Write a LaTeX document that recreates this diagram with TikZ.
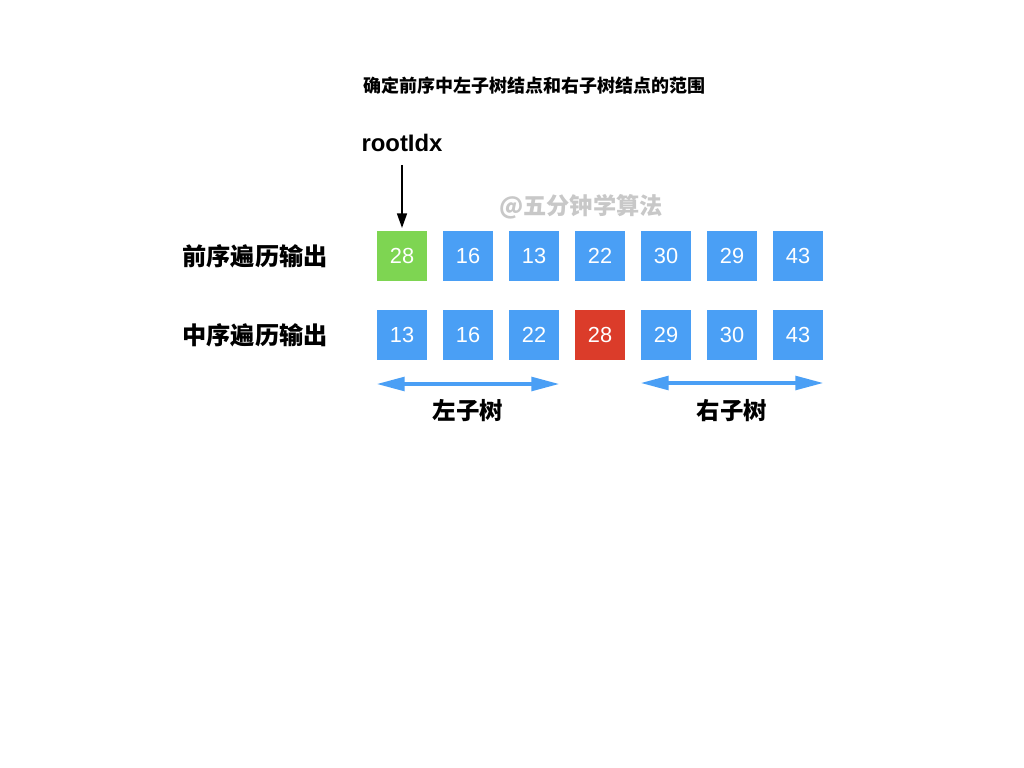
\documentclass[tikz,border=0pt]{standalone}
\usepackage{fontspec}
\setmainfont{Liberation Sans}
\newfontfamily\cjk{Noto Sans CJK SC}
\usetikzlibrary{arrows.meta, positioning}
\definecolor{cellblue}{RGB}{74,159,245}
\definecolor{cellgreen}{RGB}{126,213,82}
\definecolor{cellred}{RGB}{219,60,42}
\definecolor{markgray}{RGB}{200,200,200}
\tikzset{
  cell/.style   = {rectangle, fill=cellblue, minimum size=1.25cm, inner sep=0pt,
                   text=white, font=\fontsize{15.5}{15.5}\selectfont},
  rowlab/.style = {font=\cjk\bfseries\fontsize{17.2}{17.2}\selectfont},
  sublab/.style = {font=\cjk\bfseries\fontsize{16.7}{16.7}\selectfont},
  span/.style   = {{Triangle[length=0.7cm, width=0.34cm]}-{Triangle[length=0.7cm, width=0.34cm]},
                   line width=2.6pt, color=cellblue, shorten <=-1pt, shorten >=-1pt},
}

\begin{document}
\begin{tikzpicture}[x=0.025cm, y=-0.025cm]
  \useasboundingbox (0,0) rectangle (1024,768);
  \fill[white] (0,0) rectangle (1024,768);

  \node[font=\cjk\bfseries\fontsize{12.8}{12.8}\selectfont] (title) at (534,86) {确定前序中左子树结点和右子树结点的范围};
  \node[font=\bfseries\fontsize{17}{17}\selectfont] (root) at (402,143) {rootIdx};
  \node[font=\cjk\bfseries\fontsize{16.5}{16.5}\selectfont, text=markgray] (mark) at (581,207) {@五分钟学算法};

  % row labels
  \node[rowlab] (prelab) at (255,256) {前序遍历输出};
  \node[rowlab] (inlab) at (255,335) {中序遍历输出};

  % preorder
  \node[cell, fill=cellgreen] (pre1) at (402,256) {28};
  \node[cell] (pre2) at (468,256) {16};
  \node[cell] (pre3) at (534,256) {13};
  \node[cell] (pre4) at (600,256) {22};
  \node[cell] (pre5) at (666,256) {30};
  \node[cell] (pre6) at (732,256) {29};
  \node[cell] (pre7) at (798,256) {43};

  % inorder
  \node[cell] (in1) at (402,335) {13};
  \node[cell] (in2) at (468,335) {16};
  \node[cell] (in3) at (534,335) {22};
  \node[cell, fill=cellred] (in4) at (600,335) {28};
  \node[cell] (in5) at (666,335) {29};
  \node[cell] (in6) at (732,335) {30};
  \node[cell] (in7) at (798,335) {43};

  \coordinate (rootend) at (402,165);
  \draw[-{Triangle[length=0.36cm, width=0.25cm]}, line width=0.9pt,
        shorten >=2pt] (rootend) -- (pre1.north);

  % subtree spans
  \coordinate (lfrom) at (378,384);
  \coordinate (lto) at (558,384);
  \coordinate (rfrom) at (642,383);
  \coordinate (rto) at (822,383);
  \draw[span] (lfrom) -- (lto);
  \draw[span] (rfrom) -- (rto);
  \node[sublab] (left) at (468,411) {左子树};
  \node[sublab] (right) at (732,411) {右子树};
\end{tikzpicture}
\end{document}
